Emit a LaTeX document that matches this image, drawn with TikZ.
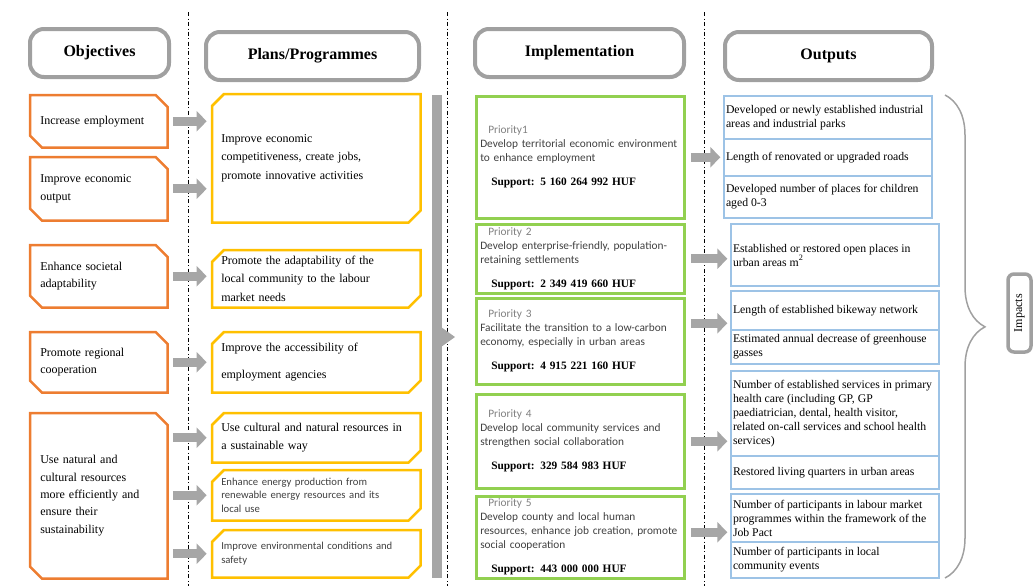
\documentclass[tikz,border=0pt]{standalone}
\usepackage{fontspec}
\setmainfont{Liberation Serif}
\newfontfamily\calibri{Carlito}
\usetikzlibrary{arrows.meta,decorations.pathreplacing}
\newlength\px \setlength\px{0.75pt}
\definecolor{objorange}{RGB}{237,125,49}
\definecolor{planyellow}{RGB}{255,192,0}
\definecolor{implgreen}{RGB}{146,208,80}
\definecolor{outblue}{RGB}{157,195,230}
\definecolor{headgray}{RGB}{160,160,160}
\definecolor{arrowgray}{RGB}{166,166,166}
\definecolor{txtgray}{RGB}{64,64,64}
\tikzset{
  head/.style={draw=headgray,line width=4\px,rounded corners=14\px,fill=white,anchor=north west,
    minimum height=48\px,font=\fontsize{12}{14}\selectfont\bfseries},
  obj/.style={text width=117\px,inner xsep=10\px,inner ysep=2\px,align=left,anchor=north west,
    font=\fontsize{9}{13}\selectfont},
  plan/.style={text width=190\px,inner xsep=9\px,inner ysep=2\px,align=left,anchor=north west,
    font=\fontsize{9}{14}\selectfont},
  plansans/.style={plan,font=\calibri\fontsize{8}{10}\selectfont,text=txtgray},
  impl/.style={draw=implgreen,line width=2.5\px,text width=200\px,inner xsep=4\px,inner ysep=1\px,
    align=left,anchor=north west,font=\calibri\fontsize{8.5}{10.5}\selectfont,text=txtgray},
  outrow/.style={draw=outblue,line width=2\px,text width=204\px,inner xsep=2\px,inner ysep=1\px,
    align=flush left,anchor=north west,font=\fontsize{8.8}{10.5}\selectfont},
  blockarrow/.style={draw=arrowgray,line width=6.75pt,-{Triangle[length=7.5pt,width=15pt]}},
  divider/.style={dash dot,line width=0.8\px}
}
\begin{document}
\begin{tikzpicture}[x=0.75pt,y=-0.75pt]
\useasboundingbox (0,0) rectangle (1035,586);
\draw[divider] (188,12)--(188,586);
\draw[divider] (447,12)--(447,586);
\draw[divider] (704,12)--(704,586);

\node[head,minimum width=139\px] (hobj) at (28,27) {Objectives};
\node[head,minimum width=213\px] (hplan) at (204,30) {Plans/Programmes};
\node[head,minimum width=209\px] (himpl) at (473,27) {Implementation};
\node[head,minimum width=207\px] (hout) at (723,30) {Outputs};

\node[obj,minimum height=52\px] (o1) at (30,95) {Increase employment};
\node[obj,minimum height=63\px] (o2) at (30,157) {Improve economic\\output};
\node[obj,minimum height=62\px] (o3) at (30,245) {Enhance societal\\adaptability};
\node[obj,minimum height=60\px] (o4) at (30,332) {Promote regional\\cooperation};
\node[obj,minimum height=165\px] (o5) at (30,413) {Use natural and\\cultural resources\\more efficiently and\\ensure their\\sustainability};
\foreach \i in {1,...,5}
  \draw[objorange,line width=2.5\px] (o\i.north west)--([xshift=-12\px]o\i.north east)--([yshift=-12\px]o\i.north east)
    --(o\i.south east)--([xshift=12\px]o\i.south west)--([yshift=12\px]o\i.south west)--cycle;

\node[plan,minimum height=128\px] (p1) at (212,94) {Improve economic\\competitiveness, create jobs,\\promote innovative activities};
\node[plan,minimum height=57\px] (p2) at (212,250) {Promote the adaptability of the\\local community to the labour\\market needs};
\node[plan,minimum height=60\px] (p3) at (212,332) {Improve the accessibility of\\[8\px]employment agencies};
\node[plan,minimum height=49\px] (p4) at (212,413) {Use cultural and natural resources in\\a sustainable way};
\node[plansans,minimum height=50\px] (p5) at (212,470) {Enhance energy production from\\renewable energy resources and its\\local use};
\node[plansans,minimum height=47\px] (p6) at (212,530) {Improve environmental conditions and\\safety};
\foreach \i in {1,...,6}
  \draw[planyellow,line width=2.5\px] ([xshift=12\px]p\i.north west)--(p\i.north east)--([yshift=12\px]p\i.south east)
    --([xshift=-12\px]p\i.south east)--(p\i.south west)--([yshift=-12\px]p\i.north west)--cycle;

\draw[blockarrow,shorten <=4pt,shorten >=4pt] (o1.east)--(o1.east -| p1.west);
\draw[blockarrow,shorten <=4pt,shorten >=4pt] (o2.east)--(o2.east -| p1.west);
\draw[blockarrow,shorten <=4pt,shorten >=4pt] (o3.east)--(o3.east -| p2.west);
\draw[blockarrow,shorten <=4pt,shorten >=4pt] (o4.east)--(o4.east -| p3.west);
\foreach \i in {4,5,6}
  \draw[blockarrow,shorten <=4pt,shorten >=4pt] (o5.east |- p\i.west)--(p\i.west);

\fill[arrowgray] (432,95) rectangle (442,578);
\fill[arrowgray] (441,327)--(455,337)--(441,347)--cycle;

\node[impl,minimum height=122\px] (i1) at (475,95) {\hspace*{8\px}\textcolor{gray}{Priority1}\\Develop territorial economic environment\\to enhance employment\\[10\px]\hspace*{11\px}{\rmfamily\bfseries\color{black}\fontsize{8.5}{10.5}\selectfont Support: 5 160 264 992 HUF}};
\node[impl,minimum height=69\px] (i2) at (475,223) {\hspace*{8\px}\textcolor{gray}{Priority 2}\\Develop enterprise-friendly, population-\\retaining settlements\\[10\px]\hspace*{11\px}{\rmfamily\bfseries\color{black}\fontsize{8.5}{10.5}\selectfont Support: 2 349 419 660 HUF}};
\node[impl,minimum height=86\px] (i3) at (475,297) {\hspace*{8\px}\textcolor{gray}{Priority 3}\\Facilitate the transition to a low-carbon\\economy, especially in urban areas\\[10\px]\hspace*{11\px}{\rmfamily\bfseries\color{black}\fontsize{8.5}{10.5}\selectfont Support: 4 915 221 160 HUF}};
\node[impl,minimum height=94\px] (i4) at (475,393) {\hspace*{8\px}\textcolor{gray}{Priority 4}\\Develop local community services and\\strengthen social collaboration\\[10\px]\hspace*{11\px}{\rmfamily\bfseries\color{black}\fontsize{8.5}{10.5}\selectfont Support: 329 584 983 HUF}};
\node[impl,minimum height=82\px] (i5) at (475,495) {\hspace*{8\px}\textcolor{gray}{Priority 5}\\Develop county and local human\\resources, enhance job creation, promote\\social cooperation\\[10\px]\hspace*{11\px}{\rmfamily\bfseries\color{black}\fontsize{8.5}{10.5}\selectfont Support: 443 000 000 HUF}};

\node[outrow,minimum height=43\px] (r1) at (723,95) {Developed or newly established industrial\\areas and industrial parks};
\node[outrow,minimum height=37\px] (r2) at (723,138) {Length of renovated or upgraded roads};
\node[outrow,minimum height=42\px] (r3) at (723,175) {Developed number of places for children\\aged 0-3};
\node[outrow,minimum height=62\px] (r4) at (730,223) {Established or restored open places in\\urban areas m\textsuperscript{2}};
\node[outrow,minimum height=39\px] (r5) at (730,290) {Length of established bikeway network};
\node[outrow,minimum height=34\px] (r6) at (730,329) {Estimated annual decrease of greenhouse\\gasses};
\node[outrow,minimum height=85\px] (r7) at (730,370) {Number of established services in primary\\health care (including GP, GP\\paediatrician, dental, health visitor,\\related on-call services and school health\\services)};
\node[outrow,minimum height=33\px] (r8) at (730,455) {Restored living quarters in urban areas};
\node[outrow,minimum height=48\px] (r9) at (730,493) {Number of participants in labour market\\programmes within the framework of the\\Job Pact};
\node[outrow,minimum height=36\px] (r10) at (730,541) {Number of participants in local\\community events};

\draw[blockarrow,shorten <=4pt,shorten >=2pt] (i1.east)--(i1.east -| r2.west);
\draw[blockarrow,shorten <=4pt,shorten >=2pt] (i2.east)--(i2.east -| r4.west);
\draw[blockarrow,shorten <=4pt,shorten >=2pt] ([yshift=18\px]i3.east)--([yshift=18\px]i3.east -| r5.west);
\draw[blockarrow,shorten <=4pt,shorten >=2pt] (i4.east)--(i4.east -| r7.west);
\draw[blockarrow,shorten <=4pt,shorten >=2pt] ([yshift=5\px]i5.east)--([yshift=5\px]i5.east -| r9.west);

\coordinate (bt) at (945,95);
\coordinate (bb) at (945,578);
\draw[decorate,decoration={brace,amplitude=30pt,aspect=0.48},headgray,line width=1.5\px] (bt)--(bb);
\node[draw=headgray,line width=3.5\px,rounded corners=6\px,rotate=90,minimum width=78\px,minimum height=23\px,
  inner sep=1\px,font=\fontsize{9}{10}\selectfont] (imp) at (1019.5,313) {Impacts};
\end{tikzpicture}
\end{document}
